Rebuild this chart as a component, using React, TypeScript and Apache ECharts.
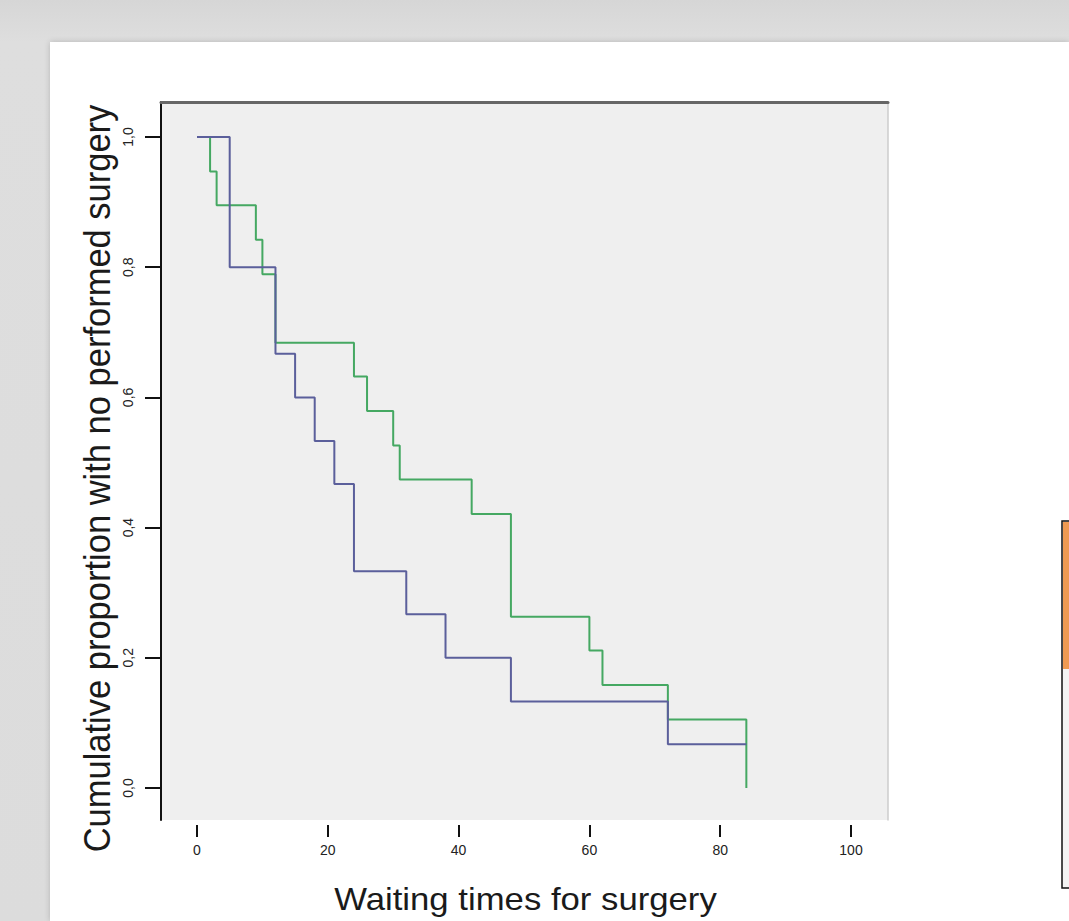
import React, { useEffect, useRef } from "react";
import * as echarts from "echarts";

// Axis ticks
const xTickValues = [0, 20, 40, 60, 80, 100];
const yTickValues = [0, 0.2, 0.4, 0.6, 0.8, 1.0];

// Group 1 (blue): event times and cumulative proportion without surgery
const blueTimes = [0, 5, 12, 15, 18, 21, 24, 32, 38, 48, 72, 84];
const blueSurvival = [1, 0.8, 0.667, 0.6, 0.533, 0.467, 0.333, 0.267, 0.2, 0.133, 0.067, 0.067];

// Group 2 (green)
const greenTimes = [0, 2, 3, 9, 10, 12, 24, 26, 30, 31, 42, 48, 60, 62, 72, 84];
const greenSurvival = [1, 0.947, 0.895, 0.842, 0.789, 0.684, 0.632, 0.579, 0.526, 0.474, 0.421, 0.263, 0.211, 0.158, 0.105, 0];

const xTitle = "Waiting times for surgery";
const yTitle = "Cumulative proportion with no performed surgery";

const X_MIN = -5.505;
const X_MAX = 105.66;
const Y_MIN = -0.0492;
const Y_MAX = 1.0538;

function toPairs(ts: number[], vs: number[]) {
  return ts.map((t, i) => [t, vs[i]]);
}

export default function App() {
  const ref = useRef<HTMLDivElement>(null);

  useEffect(() => {
    if (!ref.current) return;
    const chart = echarts.init(ref.current, null, { renderer: "svg" });
    const fmtY = (v: number) => v.toFixed(1).replace(".", ",");
    chart.setOption({
      animation: false,
      backgroundColor: "transparent",
      grid: {
        left: 161,
        top: 102,
        width: 727,
        height: 718,
        show: true,
        backgroundColor: "#efefef",
        borderWidth: 0,
      },
      xAxis: [
        {
          type: "value",
          min: X_MIN,
          max: X_MAX,
          position: "bottom",
          offset: 5,
          axisLine: { show: false, onZero: false },
          axisTick: {
            show: true,
            length: 12,
            customValues: xTickValues,
            lineStyle: { color: "#111", width: 2 },
          },
          axisLabel: {
            customValues: xTickValues,
            margin: 18,
            fontSize: 14,
            fontFamily: "Liberation Sans, Arial, sans-serif",
            color: "#222",
            formatter: (v: number) => String(v),
          },
          splitLine: { show: false },
        },
        {
          type: "value",
          min: X_MIN,
          max: X_MAX,
          position: "top",
          axisLine: { show: true, onZero: false, lineStyle: { color: "#666", width: 3 } },
          axisTick: { show: false },
          axisLabel: { show: false },
          splitLine: { show: false },
        },
      ],
      yAxis: [
        {
          type: "value",
          min: Y_MIN,
          max: Y_MAX,
          position: "left",
          axisLine: { show: true, onZero: false, lineStyle: { color: "#111", width: 2 } },
          axisTick: {
            show: true,
            length: 16,
            customValues: yTickValues,
            lineStyle: { color: "#111", width: 2 },
          },
          axisLabel: {
            customValues: yTickValues,
            rotate: 90,
            margin: 26,
            fontSize: 14,
            fontFamily: "Liberation Sans, Arial, sans-serif",
            color: "#222",
            formatter: fmtY,
          },
          splitLine: { show: false },
        },
        {
          type: "value",
          min: Y_MIN,
          max: Y_MAX,
          position: "right",
          axisLine: { show: true, onZero: false, lineStyle: { color: "#cdcdcd", width: 1.5 } },
          axisTick: { show: false },
          axisLabel: { show: false },
          splitLine: { show: false },
        },
      ],
      series: [
        {
          type: "line",
          name: "Group 2",
          step: "end",
          showSymbol: false,
          data: toPairs(greenTimes, greenSurvival),
          lineStyle: { color: "#45a862", width: 2 },
          itemStyle: { color: "#45a862" },
        },
        {
          type: "line",
          name: "Group 1",
          step: "end",
          showSymbol: false,
          data: toPairs(blueTimes, blueSurvival),
          lineStyle: { color: "#5b5f9b", width: 2 },
          itemStyle: { color: "#5b5f9b" },
        },
      ],
      graphic: [
        {
          type: "text",
          x: 525.5,
          y: 899,
          scaleX: 1.12,
          style: {
            text: xTitle,
            fontSize: 31,
            fontFamily: "Liberation Sans, Arial, sans-serif",
            fill: "#1a1a1a",
            align: "center",
            verticalAlign: "middle",
          },
        },
        {
          type: "text",
          x: 96.5,
          y: 478.5,
          rotation: Math.PI / 2,
          scaleY: 1.09,
          style: {
            text: yTitle,
            fontSize: 34.5,
            fontFamily: "Liberation Sans, Arial, sans-serif",
            fill: "#1a1a1a",
            align: "center",
            verticalAlign: "middle",
          },
        },
        {
          type: "rect",
          shape: { x: 1062, y: 521, width: 30, height: 367 },
          style: { fill: "#f3f3f3", stroke: "#111", lineWidth: 1.5 },
        },
        {
          type: "rect",
          shape: { x: 1063, y: 522, width: 30, height: 147 },
          style: { fill: "#ef9a52" },
        },
      ],
    });
    return () => chart.dispose();
  }, []);

  return (
    <div
      style={{
        position: "fixed",
        left: 0,
        top: 0,
        width: 1069,
        height: 921,
        overflow: "hidden",
        background: "linear-gradient(#d6d6d6, #dedede 42px, #dcdcdc)",
      }}
    >
      <div
        style={{
          position: "absolute",
          left: 50,
          top: 42,
          right: 0,
          bottom: 0,
          background: "#ffffff",
          boxShadow: "0 0 6px rgba(0,0,0,0.18)",
        }}
      />
      <div
        ref={ref}
        style={{ position: "absolute", left: 0, top: 0, width: 1069, height: 921 }}
      />
    </div>
  );
}
